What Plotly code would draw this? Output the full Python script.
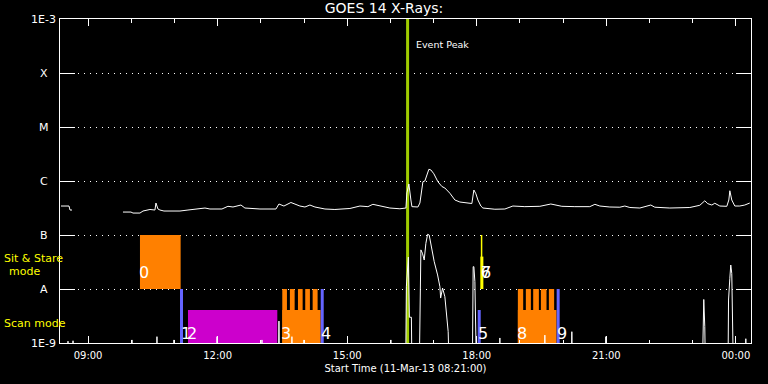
import math
import pandas as pd
import plotly.graph_objects as go

START = pd.Timestamp("2013-03-11 08:21:00")
END = START + pd.Timedelta(hours=16)

# ---------------- GOES 14 long channel (minutes after start, W/m^2) ----------------
long_min = [1.4, 12.5, 13.9, 16.7, 50.0, 87.5, 98.6, 101.4, 111.1, 115.3,
            120.8, 125.0, 131.9, 133.3, 136.1, 138.9, 144.4, 166.7, 177.8, 194.4,
            201.4, 208.3, 225.0, 233.3, 240.3, 251.4, 256.9, 277.8, 300.0, 304.2,
            311.1, 320.8, 333.3, 340.3, 347.2, 354.2, 368.1, 381.9, 402.8, 416.7,
            427.8, 434.7, 444.4, 458.3, 472.2, 480.6, 481.9, 484.7, 487.5, 488.9,
            497.2, 500.0, 504.2, 506.9, 512.5, 515.3, 519.4, 525.0, 530.6, 534.7,
            541.7, 548.6, 555.6, 563.9, 572.2, 575.0, 577.8, 580.6, 584.7, 587.5,
            604.2, 618.1, 629.2, 645.8, 666.7, 681.9, 688.9, 697.2, 715.3, 736.1,
            743.1, 750.0, 763.9, 777.8, 784.7, 791.7, 805.6, 820.8, 826.4, 847.2,
            875.0, 888.9, 895.8, 900.0, 905.6, 909.7, 916.7, 926.4, 929.2, 930.6,
            933.3, 937.5, 944.4, 951.4, 958.3]
long_flux = [3.44e-7, 3.44e-7, 2.90e-7, 2.90e-7, None, 2.66e-7, 2.66e-7, 2.55e-7, 2.55e-7, 2.78e-7,
             2.90e-7, 2.97e-7, 2.90e-7, 3.91e-7, 3.03e-7, 2.90e-7, 2.78e-7, 2.78e-7, 2.90e-7, 3.10e-7,
             3.16e-7, 3.03e-7, 3.03e-7, 3.40e-7, 3.30e-7, 3.59e-7, 3.16e-7, 3.03e-7, 3.03e-7, 3.75e-7,
             3.44e-7, 4.00e-7, 3.44e-7, 3.30e-7, 3.59e-7, 3.30e-7, 3.03e-7, 2.97e-7, 3.10e-7, 3.44e-7,
             3.35e-7, 3.70e-7, 3.44e-7, 3.16e-7, 3.06e-7, 3.16e-7, 6.00e-7, 8.80e-7, 4.45e-7, 3.35e-7,
             3.30e-7, 3.91e-7, 9.70e-7, 1.00e-6, 1.65e-6, 1.60e-6, 1.36e-6, 9.70e-7, 7.90e-7, 7.42e-7,
             5.93e-7, 4.45e-7, 4.08e-7, 3.91e-7, 3.83e-7, 6.81e-7, 5.80e-7, 4.45e-7, 3.44e-7, 3.16e-7,
             3.00e-7, 3.03e-7, 3.44e-7, 3.35e-7, 3.40e-7, 3.75e-7, 3.59e-7, 3.40e-7, 3.35e-7, 3.35e-7,
             3.70e-7, 3.44e-7, 3.30e-7, 3.27e-7, 3.44e-7, 3.23e-7, 3.16e-7, 3.59e-7, 3.27e-7, 3.16e-7,
             3.23e-7, 3.55e-7, 4.30e-7, 3.80e-7, 3.59e-7, 3.87e-7, 3.44e-7, 3.40e-7, 4.45e-7, 6.60e-7,
             4.45e-7, 3.44e-7, 3.44e-7, 3.59e-7, 3.91e-7]

# ---------------- GOES 14 short channel (mostly below 1E-9) ----------------
B = 1e-10
short_min = [9.7, 11.1, 12.5, 16.7, 18.1, 19.4,
             98.6, 100.0, 101.4, 133.3, 134.7, 136.1,
             156.9, 158.3, 159.7, 216.7, 218.1, 219.4,
             279.2, 280.6, 281.9, 302.8, 304.2, 305.6,
             320.8, 322.2, 323.6, 337.5, 338.9, 340.3,
             458.3, 459.7, 461.1,
             479.9, 481.2, 484.0, 485.4, 488.2, 489.3,
             498.6, 500.0, 501.4, 503.5, 506.0, 508.3, 510.7, 512.9, 516.3, 519.9,
             524.6, 527.8, 528.8, 531.5, 534.7, 537.1, 539.3, 541.7,
             572.6, 574.0, 575.0, 576.4, 577.8, 579.2,
             609.7, 611.1, 612.5, 672.2, 673.6, 675.0,
             709.7, 711.1, 712.5, 756.9, 758.3, 759.7,
             891.7, 893.1, 894.4, 895.8, 897.2,
             927.8, 928.8, 930.6, 931.9, 933.3, 934.7, 936.1,
             951.4, 952.8, 954.2]
short_flux = [B, 1.08e-9, B, B, 1.10e-9, B,
              B, 1.14e-9, B, B, 1.31e-9, B,
              B, 1.14e-9, B, B, 1.31e-9, B,
              B, 1.14e-9, B, B, 2.55e-9, B,
              B, 1.31e-9, B, B, 1.14e-9, B,
              B, 1.14e-9, B,
              B, 1.10e-8, 3.90e-8, 3.00e-9, 3.00e-9, B,
              B, 1.10e-8, 5.30e-8, 4.60e-8, 3.44e-8, 7.00e-8, 1.03e-7, 1.00e-7, 5.74e-8, 3.20e-8,
              1.82e-8, 1.10e-8, 6.80e-9, 1.04e-8, 7.20e-9, 3.60e-9, 1.62e-9, B,
              B, 2.59e-8, 2.59e-8, 1.37e-8, 2.15e-9, B,
              B, 1.24e-9, B, B, 1.40e-9, B,
              B, 1.62e-9, B, B, 1.31e-9, B,
              B, 3.07e-9, 6.40e-9, 2.00e-9, B,
              B, 6.25e-9, 1.58e-8, 2.78e-8, 1.95e-8, 2.06e-9, B,
              B, 1.20e-9, B]

# ---------------- observation blocks ----------------
sit_blocks = [(111.1, 167.6)]                       # sit & stare, A..B
scan_blocks = [(177.8, 301.9), (308.8, 362.1), (636.1, 689.8)]
scan_colors = ["#cc00cc", "#ff8000", "#ff8000"]
scan_top = 4.08e-9
teeth = [(308.8, 315.3), (319.4, 326.0), (330.6, 337.1), (340.7, 347.2), (351.0, 357.9),
         (636.1, 643.5), (647.2, 654.2), (657.4, 665.3), (668.1, 675.9), (679.2, 686.5)]
blue_min = [168.8, 364.3, 582.4, 692.1]
blue_top = [1e-8, 1e-8, 4.08e-9, 1e-8]
yellow_min = [585.7, 586.1]
yellow_top = [1e-7, 3.98e-8]
event_min = 482.9

label_text = ["0", "1", "2", "3", "4", "5", "6", "7", "8", "9"]
label_min = [111.1, 168.8, 177.8, 308.8, 364.3, 582.4, 585.7, 585.7, 636.1, 692.1]
label_flux = [2.06e-8, 1.53e-9, 1.53e-9, 1.53e-9, 1.53e-9, 1.53e-9, 2.06e-8, 2.06e-8, 1.53e-9, 1.53e-9]

ylevels = [1e-9, 1e-8, 1e-7, 1e-6, 1e-5, 1e-4, 1e-3]
ylabels = ["1E-9", "A", "B", "C", "M", "X", "1E-3"]


def T(m):
    return START + pd.Timedelta(minutes=m)


FONT = "DejaVu Sans"
fig = go.Figure()

# event peak line
fig.add_trace(go.Scatter(x=[T(event_min), T(event_min)], y=[1e-9, 1e-3], mode="lines",
                         line=dict(color="#a0cc00", width=3), hoverinfo="skip"))


def rect(t0, t1, y0, y1, color):
    fig.add_trace(go.Scatter(x=[T(t0), T(t1), T(t1), T(t0), T(t0)],
                             y=[y0, y0, y1, y1, y0], mode="lines", fill="toself",
                             fillcolor=color, line=dict(width=0, color=color), hoverinfo="skip"))


for t0, t1 in sit_blocks:
    rect(t0, t1, 1e-8, 1e-7, "#ff8000")
for (t0, t1), c in zip(scan_blocks, scan_colors):
    rect(t0, t1, 1e-9, scan_top, c)
for t0, t1 in teeth:
    rect(t0, t1, 1e-9, 1e-8, "#ff8000")

for m, top in zip(blue_min, blue_top):
    fig.add_trace(go.Scatter(x=[T(m), T(m)], y=[1e-9, top], mode="lines",
                             line=dict(color="#6464ff", width=3), hoverinfo="skip"))
for m, top, w in zip(yellow_min, yellow_top, [1.5, 3]):
    fig.add_trace(go.Scatter(x=[T(m), T(m)], y=[1e-8, top], mode="lines",
                             line=dict(color="#ffff00", width=w), hoverinfo="skip"))

# GOES curves
fig.add_trace(go.Scatter(x=[T(m) for m in long_min], y=long_flux, mode="lines",
                         line=dict(color="white", width=1), connectgaps=False, hoverinfo="skip"))
fig.add_trace(go.Scatter(x=[T(m) for m in short_min], y=short_flux, mode="lines",
                         line=dict(color="white", width=1), hoverinfo="skip"))

ann = []
# observation labels
for s, m, v in zip(label_text, label_min, label_flux):
    ann.append(dict(x=T(m), xref="x", y=math.log10(v), yref="y", text=s, showarrow=False,
                    xanchor="left", yanchor="middle", xshift=-2, borderpad=0,
                    font=dict(color="white", size=16, family=FONT)))
for v, s in zip(ylevels, ylabels):
    ann.append(dict(x=-0.0232, xref="paper", y=math.log10(v), yref="y", text=s,
                    showarrow=False, xanchor="center", yanchor="middle",
                    font=dict(color="white", size=11, family=FONT)))
ann.append(dict(x=T(event_min), xref="x", y=math.log10(3.44e-4), yref="y", text="Event Peak",
                showarrow=False, xanchor="left", yanchor="middle", xshift=6,
                font=dict(color="white", size=9.5, family=FONT)))
ann.append(dict(x=-0.0839, xref="paper", y=-7.444, yref="y", text="Sit & Stare",
                showarrow=False, xanchor="left", yanchor="middle",
                font=dict(color="#ffff00", size=11, family=FONT)))
ann.append(dict(x=-0.0517, xref="paper", y=-7.667, yref="y", text="mode",
                showarrow=False, xanchor="center", yanchor="middle",
                font=dict(color="#ffff00", size=11, family=FONT)))
ann.append(dict(x=-0.0839, xref="paper", y=-8.648, yref="y", text="Scan mode",
                showarrow=False, xanchor="left", yanchor="middle",
                font=dict(color="#ffff00", size=11, family=FONT)))

fig.update_layout(
    width=768, height=384, paper_bgcolor="black", plot_bgcolor="black",
    margin=dict(l=60, r=17, t=19, b=41), showlegend=False,
    title=dict(text="GOES 14 X-Rays:", x=0.5, xanchor="center", y=1 - 8 / 384, yanchor="middle",
               font=dict(color="white", size=14, family=FONT)),
    annotations=ann,
    xaxis=dict(type="date", range=[START, END], tick0="2013-03-11 09:00", dtick=3 * 3600000,
               tickformat="%H:%M", ticks="inside", ticklen=7, tickcolor="white",
               showline=True, linecolor="white", linewidth=1, mirror="ticks",
               showgrid=False, zeroline=False, ticklabelstandoff=3,
               tickfont=dict(color="white", size=10, family=FONT),
               minor=dict(dtick=3600000, tick0="2013-03-11 09:00", ticks="inside", ticklen=3.5,
                          tickcolor="white", showgrid=False),
               title=dict(text="Start Time (11-Mar-13 08:21:00)", standoff=4,
                          font=dict(color="white", size=10, family=FONT))),
    yaxis=dict(type="log", range=[-9, -3], tickvals=ylevels, showticklabels=False,
               ticks="inside", ticklen=15, tickcolor="white", showline=True, linecolor="white",
               linewidth=1, mirror="ticks", showgrid=True, gridcolor="white", griddash="1px,5px",
               gridwidth=1, zeroline=False),
)

fig.write_html("out.html", config={"displayModeBar": False},
               post_script="document.body.style.margin='0px';document.body.style.background='black';")
